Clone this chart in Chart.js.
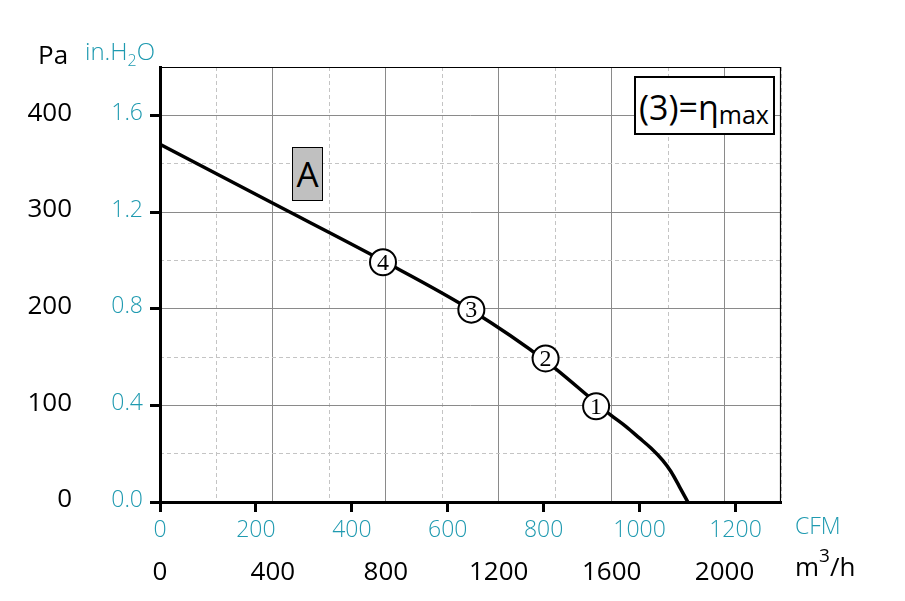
<!DOCTYPE html>
<html><head><meta charset="utf-8">
<script src="https://cdn.jsdelivr.net/npm/chart.js@4/dist/chart.umd.min.js"></script>
<style>
html,body{margin:0;padding:0;background:#fff;}
#wrap{position:relative;width:905px;height:601px;overflow:hidden;font-family:"Open Sans",sans-serif;}
#c{position:absolute;left:0;top:0;}
.lbl{position:absolute;white-space:nowrap;line-height:1;}
.teal{color:#1f9ab0;font-weight:300;}
#boxA{position:absolute;left:292px;top:147px;width:31px;height:54px;box-sizing:border-box;border:1px solid #000;background:#c0c0c0;}
#boxA span{position:absolute;left:0;width:100%;top:8px;text-align:center;font-size:35px;line-height:1;color:#000;}
#leg{position:absolute;left:634px;top:76px;width:141px;height:59px;box-sizing:border-box;border:2px solid #000;background:#fff;}
#leg span.t{position:absolute;left:3px;top:12px;font-size:34px;line-height:1;white-space:nowrap;color:#000;}
</style></head><body>
<div id="wrap">
<canvas id="c" width="905" height="601"></canvas>
<div class="lbl" style="left:38px;top:41px;font-size:26px;color:#000">Pa</div>
<div class="lbl teal" style="left:85px;top:39px;font-size:24px">in.H<span style="font-size:16px;position:relative;top:6px">2</span>O</div>
<div class="lbl teal" style="left:795px;top:514px;font-size:23px">CFM</div>
<div class="lbl" style="left:795px;top:553px;font-size:26px;color:#000">m<span style="font-size:19px;position:relative;top:-14px">3</span>/h</div>
<div id="boxA"><span>A</span></div>
<div id="leg"><span class="t">(3)=η<span style="font-size:25px;position:relative;top:4px">max</span></span></div>
</div>
<script>
// ---- data ----
const flowM3h     = [0, 400, 790, 1103, 1366, 1545, 1596, 1651, 1699, 1740, 1781, 1810, 1840, 1870];
const pressurePa  = [370, 309, 249.5, 198.4, 146, 102.6, 90.2, 78, 66, 55.6, 43, 31.5, 16, 0];
const markerFlow  = [790, 1103, 1366, 1545];
const markerPa    = [248, 199, 148.5, 99];
const markerLabels = ['4', '3', '2', '1'];
// axis ranges / conversions
const FLOW_MAX = 2200;      // m3/h
const PA_MAX = 450;         // Pa
const M3H_PER_CFM = 1.699;
const PA_PER_INH2O = 250;

const TEAL = '#1f9ab0';
const GRID_MAJOR = '#8a8a8a';
const GRID_MINOR = '#c4c4c4';

const lineData = flowM3h.map((x, i) => ({x, y: pressurePa[i]}));
const markData = markerFlow.map((x, i) => ({x, y: markerPa[i]}));

const markerText = {
  id: 'markerText',
  afterDatasetsDraw(chart) {
    const ctx = chart.ctx;
    const meta = chart.getDatasetMeta(0);
    ctx.save();
    ctx.font = '24px "Liberation Serif", "DejaVu Serif", serif';
    ctx.fillStyle = '#000';
    ctx.textAlign = 'center';
    ctx.textBaseline = 'middle';
    meta.data.forEach((el, i) => ctx.fillText(markerLabels[i], el.x, el.y + 1));
    ctx.restore();
  }
};
const frame = {
  id: 'frame',
  beforeDatasetsDraw(chart) {
    const {ctx, chartArea: a} = chart;
    ctx.save();
    ctx.strokeStyle = '#000';
    ctx.lineWidth = 1.2;
    ctx.beginPath();
    ctx.moveTo(a.left, a.top + 0.5);
    ctx.lineTo(a.right - 0.5, a.top + 0.5);
    ctx.lineTo(a.right - 0.5, a.bottom);
    ctx.stroke();
    ctx.restore();
  }
};

const isMajor = (v, step) => Math.abs(v / step - Math.round(v / step)) < 1e-6;

new Chart(document.getElementById('c'), {
  type: 'line',
  data: {
    datasets: [
      { data: markData, showLine: false, order: 0, xAxisID: 'x', yAxisID: 'y',
        pointRadius: 13, pointBackgroundColor: '#fff', pointBorderColor: '#000', pointBorderWidth: 2 },
      { data: lineData, order: 1, xAxisID: 'x', yAxisID: 'y', borderColor: '#000', borderWidth: 3.5,
        pointRadius: 0, cubicInterpolationMode: 'monotone', fill: false }
    ]
  },
  options: {
    responsive: false, animation: false, devicePixelRatio: 1, events: [],
    layout: { padding: { top: 67, right: 124, left: 0, bottom: 0 } },
    plugins: { legend: { display: false }, tooltip: { enabled: false } },
    scales: {
      x: {
        type: 'linear', position: 'bottom', weight: 1, min: 0, max: FLOW_MAX,
        ticks: { stepSize: 200, autoSkip: false, maxRotation: 0, maxTicksLimit: 100, padding: 12,
          color: '#000', font: { family: 'Open Sans', size: 26 },
          callback: v => isMajor(v, 400) ? String(v) : '' },
        grid: { drawTicks: false, lineWidth: 1,
          color: c => (c.tick && isMajor(c.tick.value, 400)) ? GRID_MAJOR : GRID_MINOR },
        border: { display: false, dash: c => (c.tick && !isMajor(c.tick.value, 400)) ? [4, 3] : [] },
        afterFit: s => { s.height = 56; }
      },
      xc: {
        type: 'linear', position: 'bottom', weight: 0, min: 0, max: FLOW_MAX / M3H_PER_CFM,
        ticks: { stepSize: 200, includeBounds: false, autoSkip: false, maxRotation: 0, padding: 5,
          color: TEAL, font: { family: 'Open Sans', size: 23, weight: 300 },
          callback: v => String(Math.round(v)) },
        grid: { drawOnChartArea: false, drawTicks: true, tickLength: 10, tickColor: '#000', tickWidth: 3 },
        border: { display: true, color: '#000', width: 3 },
        afterFit: s => { s.height = 43; }
      },
      y: {
        type: 'linear', position: 'left', weight: 1, min: 0, max: PA_MAX,
        ticks: { stepSize: 50, autoSkip: false, maxTicksLimit: 100, padding: 33, labelOffset: -2,
          color: '#000', font: { family: 'Open Sans', size: 26 },
          callback: v => isMajor(v, 100) ? String(v) : '' },
        grid: { drawTicks: false, lineWidth: 1,
          color: c => (c.tick && isMajor(c.tick.value, 100)) ? GRID_MAJOR : GRID_MINOR },
        border: { display: false, dash: c => (c.tick && !isMajor(c.tick.value, 100)) ? [4, 3] : [] },
        afterFit: s => { s.width = 105; }
      },
      yi: {
        type: 'linear', position: 'left', weight: 0, min: 0, max: PA_MAX / PA_PER_INH2O,
        ticks: { stepSize: 0.4, includeBounds: false, autoSkip: false, padding: 7, labelOffset: -2,
          color: TEAL, font: { family: 'Open Sans', size: 23, weight: 300 },
          callback: v => Number(v).toFixed(1) },
        grid: { drawOnChartArea: false, drawTicks: true, tickLength: 10, tickColor: '#000', tickWidth: 3 },
        border: { display: true, color: '#000', width: 3 },
        afterFit: s => { s.width = 55; }
      }
    }
  },
  plugins: [frame, markerText]
});
</script>
</body></html>
